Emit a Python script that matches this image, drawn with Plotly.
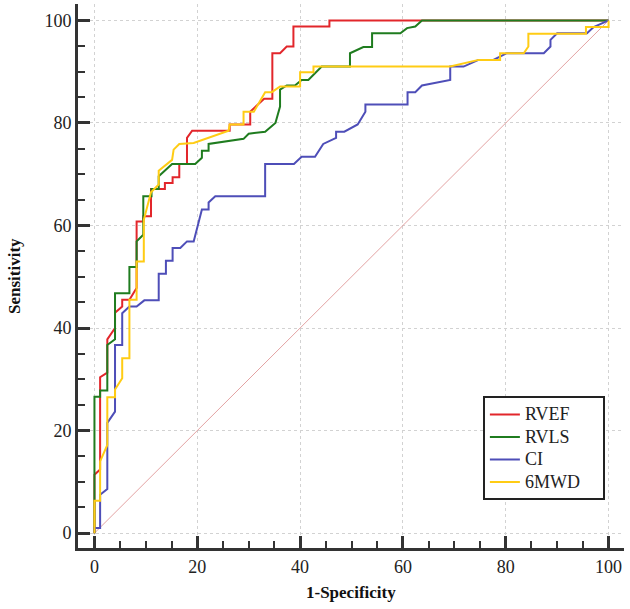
import plotly.graph_objects as go

# ROC curve vertices (1-Specificity %, Sensitivity %)
rvef_x = [0, 0, 1.1, 1.1, 2.5, 2.5, 4.0, 4.0, 5.4, 5.4, 6.8, 8.2, 8.2, 9.5, 9.5, 11.0, 11.0, 13.7, 13.7,
          15.2, 15.2, 16.5, 16.5, 18.0, 18.0, 19.0, 26.3, 26.3, 30.3, 30.3, 33.0, 34.6, 34.6, 36.1, 37.4,
          38.7, 38.7, 45.7, 45.7, 100]
rvef_y = [0, 11.4, 12.4, 30.4, 31.3, 37.8, 40.0, 43.0, 44.2, 45.5, 45.5, 47.8, 60.8, 60.8, 61.8, 61.8, 67.1,
          67.1, 68.3, 68.3, 69.4, 69.4, 72.0, 72.0, 77.1, 78.5, 78.5, 79.7, 79.7, 82.2, 84.7, 84.7, 93.6,
          93.6, 94.9, 94.9, 98.8, 98.8, 100, 100]

rvls_x = [0, 0, 1.1, 1.1, 2.5, 2.5, 4.0, 4.0, 6.8, 6.8, 8.2, 8.2, 9.5, 9.5, 11.1, 11.1, 12.5, 12.5, 15.1,
          19.6, 20.9, 20.9, 22.2, 22.2, 29.0, 30.0, 33.2, 35.2, 36.1, 36.1, 37.4, 39.0, 40.3, 41.6, 44.2,
          49.7, 49.7, 52.3, 54.0, 54.0, 59.5, 60.8, 62.4, 63.7, 100]
rvls_y = [0, 26.6, 26.6, 27.8, 27.8, 36.7, 37.8, 46.8, 46.8, 51.9, 51.9, 56.9, 58.2, 65.7, 65.7, 67.1, 67.1,
          69.6, 72.0, 72.0, 73.2, 74.6, 74.6, 75.9, 76.9, 77.9, 78.3, 80.0, 83.2, 86.5, 87.3, 87.3, 88.4,
          88.4, 91.0, 91.0, 93.6, 94.8, 94.8, 97.5, 97.5, 98.5, 98.8, 100, 100]

ci_x = [0, 0, 1.1, 1.1, 2.5, 2.5, 4.0, 4.0, 5.4, 5.4, 6.8, 8.2, 9.7, 12.5, 12.5, 13.9, 13.9, 15.2, 15.2,
        16.7, 18.0, 19.3, 20.9, 22.2, 22.2, 23.5, 33.2, 33.2, 38.8, 40.3, 42.9, 44.5, 47.0, 47.0, 48.6,
        51.2, 52.7, 52.7, 60.9, 60.9, 62.4, 63.7, 69.2, 69.2, 71.8, 74.7, 77.6, 78.9, 80.2, 87.4, 88.7,
        88.7, 90.0, 95.8, 97.1, 100]
ci_y = [0, 1.0, 1.0, 7.5, 8.6, 21.5, 23.7, 36.7, 36.7, 42.9, 44.2, 44.2, 45.4, 45.4, 50.6, 50.6, 53.1,
        53.1, 55.6, 55.6, 56.9, 56.9, 63.1, 63.1, 64.5, 65.7, 65.7, 72.0, 72.0, 73.4, 73.4, 75.9, 77.1,
        78.3, 78.3, 79.7, 82.2, 83.6, 83.6, 86.0, 86.0, 87.3, 88.4, 91.0, 91.0, 92.3, 92.3, 92.9, 93.6,
        93.6, 94.9, 96.2, 97.5, 97.5, 98.7, 100]

mwd_x = [0, 0, 1.1, 1.1, 2.5, 2.5, 4.0, 4.0, 5.4, 5.4, 6.8, 6.8, 8.2, 8.2, 9.6, 9.6, 11.0, 12.5, 12.5,
         15.1, 15.4, 16.5, 19.3, 26.1, 26.3, 29.0, 29.0, 31.0, 33.2, 34.5, 36.1, 40.0, 40.0, 42.6, 42.6,
         69.2, 74.7, 78.9, 78.9, 83.5, 84.4, 84.4, 95.6, 95.6, 100, 100]
mwd_y = [0, 6.3, 6.3, 14.0, 17.2, 26.5, 26.5, 28.0, 30.2, 34.1, 34.1, 45.5, 45.5, 53.0, 53.0, 61.1, 66.5,
         68.0, 70.7, 72.8, 74.8, 75.9, 76.1, 78.5, 79.7, 79.7, 82.2, 82.2, 86.0, 86.0, 87.1, 87.1, 89.9,
         89.9, 91.0, 91.0, 92.3, 92.3, 93.6, 93.6, 94.9, 97.4, 97.4, 98.7, 98.7, 100]

ref_x = [0, 100]
ref_y = [0, 100]

series_names = ["RVEF", "RVLS", "CI", "6MWD"]
series_colors = ["#e2262b", "#1f7c1f", "#4e4eb8", "#ffcc14"]

x_ticks = [0, 20, 40, 60, 80, 100]
y_ticks = [0, 20, 40, 60, 80, 100]

x_title = "1-Specificity"
y_title = "Sensitivity"

SERIF = "Liberation Serif, Times New Roman, serif"
PAD = "\u00a0" * 4

fig = go.Figure()
fig.add_trace(go.Scatter(x=ref_x, y=ref_y, mode="lines", showlegend=False,
                         line=dict(color="#e3a3a3", width=1), hoverinfo="skip"))

for name, xs, ys, col in zip(series_names,
                             [rvef_x, rvls_x, ci_x, mwd_x],
                             [rvef_y, rvls_y, ci_y, mwd_y],
                             series_colors):
    fig.add_trace(go.Scatter(x=xs, y=ys, mode="lines",
                             name='<span style="font-size:18px">%s%s</span>' % (name, PAD),
                             line=dict(color=col, width=2)))

axis_common = dict(
    automargin=False,
    showline=True, linecolor="#333333", linewidth=3,
    ticks="inside", ticklen=12, tickwidth=2.5, tickcolor="#333333",
    showgrid=True, gridcolor="#d2d2d2", gridwidth=1, griddash="dot",
    zeroline=False,
    tickfont=dict(family=SERIF, size=18, color="#222222"),
    minor=dict(dtick=5, tick0=0, ticks="inside", ticklen=7, tickwidth=1.5,
               tickcolor="#333333", showgrid=False),
)

fig.update_layout(
    width=630, height=609,
    margin=dict(l=78, r=6, t=4, b=61),
    paper_bgcolor="white", plot_bgcolor="white",
    xaxis=dict(range=[-3.2, 103.0], tickvals=x_ticks, **axis_common),
    yaxis=dict(range=[-2.9, 103.2], tickvals=y_ticks, **axis_common),
    legend=dict(x=0.965, y=0.279, xanchor="right", yanchor="top",
                bgcolor="white", bordercolor="#222222", borderwidth=2,
                font=dict(family=SERIF, size=15, color="#222222"),
                tracegroupgap=0, itemwidth=30),
    showlegend=True,
    annotations=[
        dict(text="<b>%s</b>" % x_title, xref="paper", yref="paper", x=0.5, y=-0.0827,
             xanchor="center", yanchor="middle", showarrow=False,
             font=dict(family=SERIF, size=17, color="#111111")),
        dict(text="<b>%s</b>" % y_title, xref="paper", yref="paper", x=-0.1172, y=0.5,
             xanchor="center", yanchor="middle", showarrow=False, textangle=-90,
             font=dict(family=SERIF, size=17, color="#111111")),
    ],
)

fig.write_html("out.html", config={"displayModeBar": False},
               post_script="document.body.style.margin='0px';")
